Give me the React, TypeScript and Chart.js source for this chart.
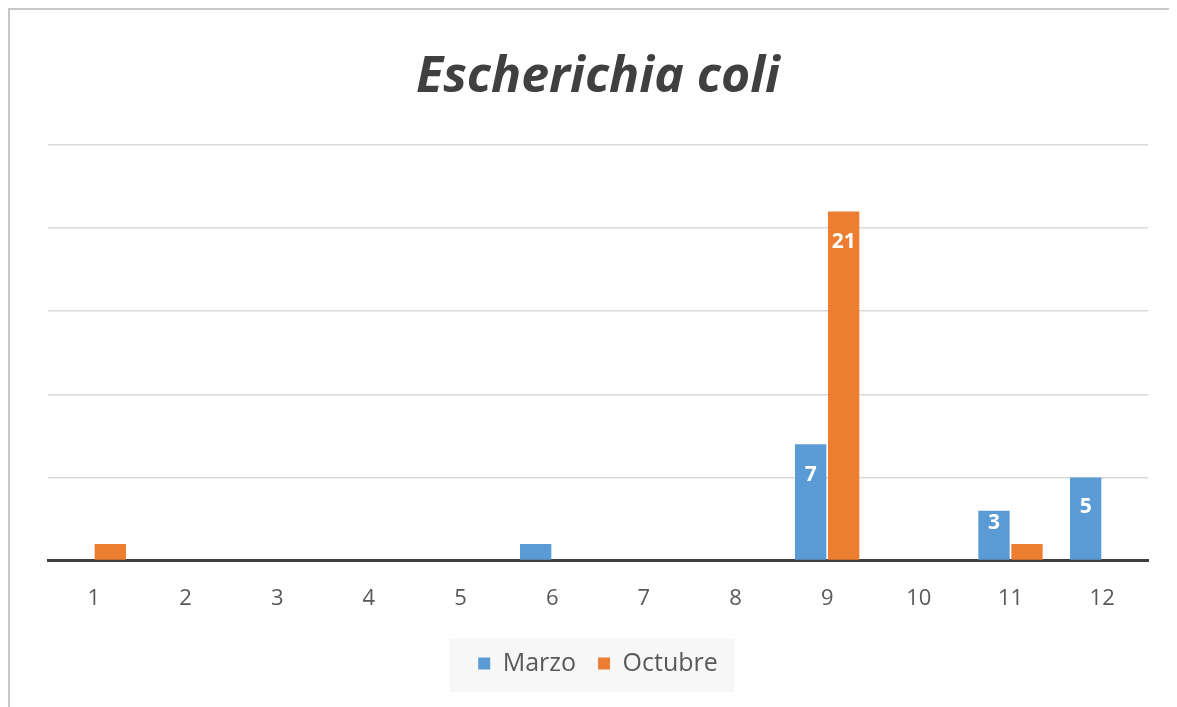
import React, { useEffect, useRef } from "react";
import { Chart, registerables } from "chart.js";

Chart.register(...registerables);

const categories = ["1", "2", "3", "4", "5", "6", "7", "8", "9", "10", "11", "12"];
const marzo = [0, 0, 0, 0, 0, 1, 0, 0, 7, 0, 3, 5];
const octubre = [1, 0, 0, 0, 0, 0, 0, 0, 21, 0, 1, 0];
const seriesNames = ["Marzo", "Octubre"];
const titleText = "Escherichia coli";

const FONT = "'Open Sans', sans-serif";

const legendBg = {
  id: "legendBg",
  beforeDraw(chart: any) {
    const l = chart.legend;
    if (!l || !l.legendHitBoxes || !l.legendHitBoxes.length) return;
    const ctx = chart.ctx;
    const hb = l.legendHitBoxes[0];
    const cy = hb.top + hb.height / 2;
    ctx.save();
    ctx.fillStyle = "#f7f7f7";
    const w = 285;
    const cx = l.left + l.width / 2;
    ctx.fillRect(cx - w / 2 - 6, cy - 25, w, 53);
    ctx.restore();
  },
};

const barLabels = {
  id: "barLabels",
  afterDatasetsDraw(chart: any) {
    const ctx = chart.ctx;
    ctx.save();
    ctx.fillStyle = "#ffffff";
    ctx.font = `bold 21px ${FONT}`;
    ctx.textAlign = "center";
    ctx.textBaseline = "middle";
    chart.data.datasets.forEach((ds: any, i: number) => {
      const meta = chart.getDatasetMeta(i);
      meta.data.forEach((bar: any, j: number) => {
        const v = ds.data[j];
        if (v > 1) {
          const top = bar.y;
          const base = bar.base;
          const y = Math.min(top + 31, (top + base) / 2 - 12);
          ctx.fillText(String(v), bar.x, y);
        }
      });
    });
    ctx.restore();
  },
};

export default function App() {
  const ref = useRef<HTMLCanvasElement>(null);
  useEffect(() => {
    document.body.style.overflow = "hidden";
    if (!ref.current) return;
    const chart = new Chart(ref.current, {
      type: "bar",
      data: {
        labels: categories,
        datasets: [
          { label: seriesNames[0], data: marzo, backgroundColor: "#5b9bd5", categoryPercentage: 0.72, barPercentage: 0.95 },
          { label: seriesNames[1], data: octubre, backgroundColor: "#ed7d31", categoryPercentage: 0.72, barPercentage: 0.95 },
        ],
      },
      options: {
        animation: false,
        responsive: false,
        layout: { padding: { left: 38, right: 29, top: 20, bottom: 21 } },
        scales: {
          x: {
            grid: { display: false },
            border: { display: true, color: "#404040", width: 3 },
            ticks: { color: "#595959", font: { size: 22, family: FONT }, padding: 17 },
          },
          y: {
            min: 0,
            max: 25,
            ticks: { display: false, stepSize: 5 },
            grid: { color: "#d9d9d9", lineWidth: 1.5, drawTicks: false },
            border: { display: false },
          },
        },
        plugins: {
          title: {
            display: true,
            text: titleText,
            color: "#404040",
            font: { size: 50, weight: "bold", style: "italic", family: FONT },
            padding: { top: 18, bottom: 37 },
          },
          legend: {
            position: "bottom",
            labels: {
              boxWidth: 12,
              boxHeight: 12,
              color: "#595959",
              font: { size: 25, family: FONT },
              padding: 22,
            },
          },
          tooltip: { enabled: false },
        },
      },
      plugins: [legendBg, barLabels],
    });
    return () => chart.destroy();
  }, []);
  return (
    <div
      style={{
        width: 1200,
        height: 720,
        boxSizing: "border-box",
        borderLeft: "2px solid #c8c8c8",
        borderTop: "2px solid #c8c8c8",
        background: "#fff",
      }}
    >
      <canvas ref={ref} width={1167} height={697} style={{ display: "block" }} />
    </div>
  );
}
